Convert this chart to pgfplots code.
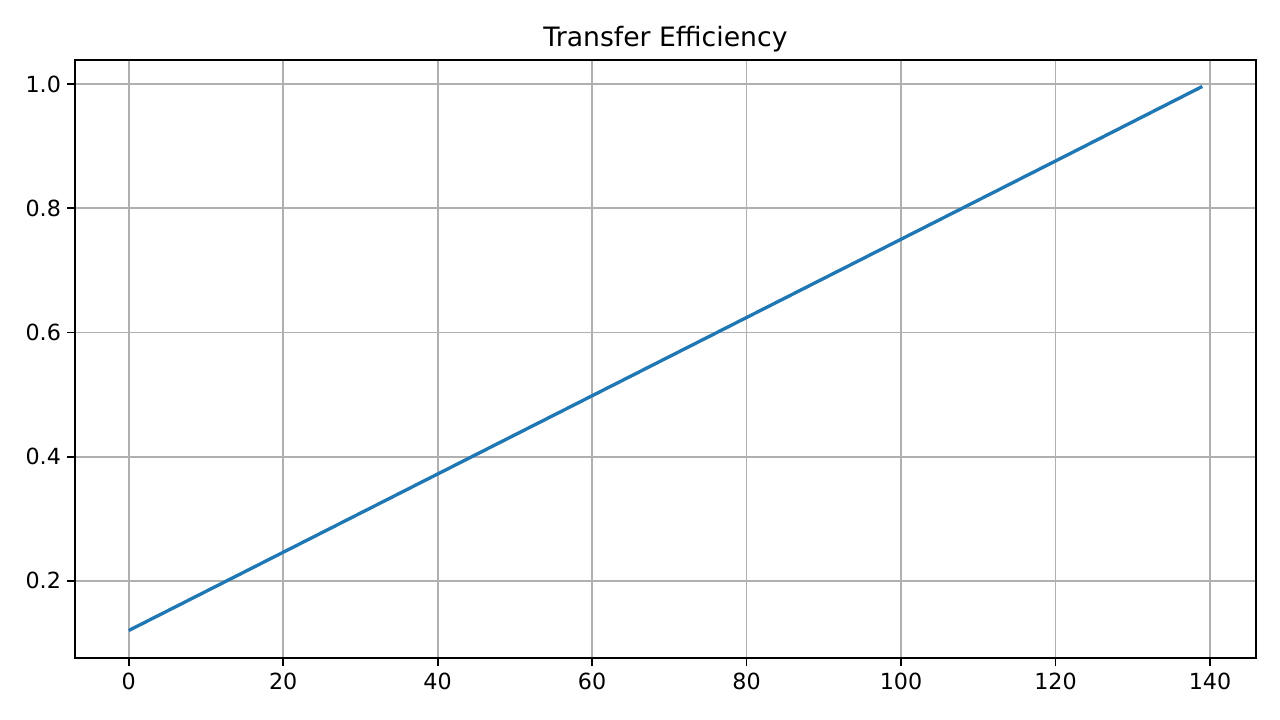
\documentclass[border=0pt]{standalone}
\usepackage{pgfplots}
\pgfplotsset{compat=1.18}
\usepackage{fontspec}
\setmainfont{DejaVu Sans}
\definecolor{mplblue}{HTML}{1F77B4}
\definecolor{mplgrid}{HTML}{B0B0B0}
\begin{document}
\begin{tikzpicture}
% 1 px = 0.72pt; axis lower-left at pixel (75,658)
\useasboundingbox (-54pt,-44.64pt) rectangle (867.6pt,473.76pt);
\begin{axis}[
  at={(0,0)}, anchor=south west,
  scale only axis,
  width=850.3pt, height=430.6pt,
  xmin=-6.95, xmax=145.95,
  ymin=0.0758, ymax=1.0387,
  xtick={0,20,...,140},
  ytick={0.2,0.4,0.6,0.8,1.0},
  yticklabel style={xshift=-1pt, /pgf/number format/.cd, fixed, fixed zerofill, precision=1},
  xticklabel style={yshift=-2pt},
  /pgf/number format/assume math mode=true,
  tick label style={font=\fontsize{16}{19}\selectfont},
  grid=major,
  major grid style={mplgrid, line width=1.28pt},
  axis line style={black, line width=1.28pt},
  tick style={black, line width=1.28pt},
  tick align=outside,
  major tick length=5.6pt,
  xtick pos=bottom, ytick pos=left,
  title={Transfer Efficiency},
  title style={font=\fontsize{19.2}{23}\selectfont, yshift=-4pt},
]
\addplot[mplblue, line width=2.4pt] coordinates {
  (0,0.120) (20,0.246) (40,0.372) (60,0.498) (80,0.624)
  (100,0.750) (120,0.876) (139,0.996)
};
\end{axis}
\end{tikzpicture}
\end{document}
